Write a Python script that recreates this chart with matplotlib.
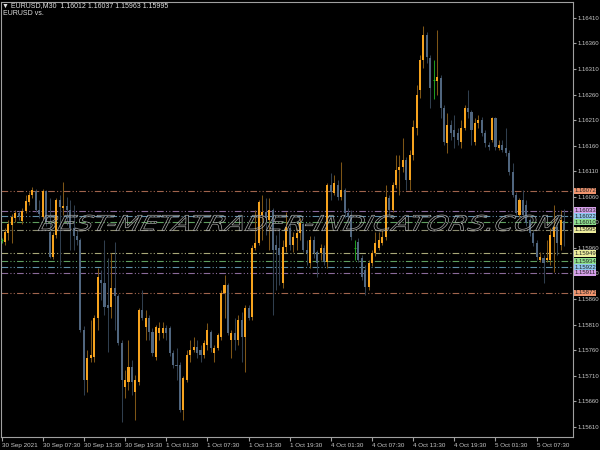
import numpy as np
import matplotlib
matplotlib.use('Agg')
import matplotlib.pyplot as plt
from matplotlib.textpath import TextPath
from matplotlib.font_manager import FontProperties
from matplotlib.patches import PathPatch
from matplotlib.transforms import Affine2D, IdentityTransform

# EURUSD M30 candles (first bar is a doji cut by the left edge)
opens = [1.15976,
    1.15972, 1.15989, 1.16005, 1.16019, 1.16029, 1.16013, 1.16032, 1.16050, 1.16064, 1.16072,
    1.16034, 1.16021, 1.16072, 1.15991, 1.15943, 1.15986, 1.16054, 1.16038, 1.16042, 1.16034,
    1.15999, 1.15984, 1.15976, 1.15800, 1.15702, 1.15745, 1.15747, 1.15823, 1.15898, 1.15892,
    1.15849, 1.15845, 1.15882, 1.15866, 1.15774, 1.15688, 1.15698, 1.15727, 1.15678, 1.15698,
    1.15839, 1.15806, 1.15823, 1.15796, 1.15747, 1.15794, 1.15794, 1.15804, 1.15804, 1.15755,
    1.15731, 1.15731, 1.15643, 1.15702, 1.15751, 1.15761, 1.15766, 1.15761, 1.15751, 1.15770,
    1.15796, 1.15755, 1.15765, 1.15786, 1.15872, 1.15888, 1.15780, 1.15794, 1.15780, 1.15819,
    1.15786, 1.15843, 1.15825, 1.15960, 1.15970, 1.16025, 1.16031, 1.16015, 1.16034, 1.15966,
    1.15960, 1.15892, 1.15962, 1.15999, 1.15966, 1.15980, 1.15989, 1.16007, 1.15956, 1.15931,
    1.15976, 1.15952, 1.15950, 1.15960, 1.15933, 1.16083, 1.16068, 1.16083, 1.16060, 1.16074,
    1.16029, 1.16025, 1.15960, 1.15972, 1.15941, 1.15917, 1.15884, 1.15931, 1.15950, 1.15960,
    1.15970, 1.15982, 1.16058, 1.16034, 1.16083, 1.16113, 1.16119, 1.16132, 1.16093, 1.16142,
    1.16195, 1.16269, 1.16328, 1.16377, 1.16332, 1.16289, 1.16287, 1.16293, 1.16234, 1.16166,
    1.16201, 1.16191, 1.16185, 1.16167, 1.16195, 1.16234, 1.16226, 1.16167, 1.16205, 1.16210,
    1.16185, 1.16162, 1.16171, 1.16214, 1.16156, 1.16162, 1.16156, 1.16146, 1.16109, 1.16064,
    1.16025, 1.16054, 1.16044, 1.16015, 1.15989, 1.15970, 1.15937, 1.15941, 1.15937, 1.15937,
    1.15982, 1.16001, 1.15966, 1.16012]

highs = [1.15980,
    1.15999, 1.16015, 1.16027, 1.16034, 1.16032, 1.16038, 1.16064, 1.16070, 1.16079, 1.16076,
    1.16054, 1.16076, 1.16074, 1.16058, 1.15991, 1.16058, 1.16064, 1.16089, 1.16060, 1.16054,
    1.16044, 1.15995, 1.15980, 1.15808, 1.15761, 1.15819, 1.15829, 1.15921, 1.15917, 1.15976,
    1.15941, 1.15950, 1.15972, 1.15870, 1.15780, 1.15721, 1.15780, 1.15741, 1.15712, 1.15843,
    1.15878, 1.15839, 1.15829, 1.15804, 1.15810, 1.15815, 1.15815, 1.15810, 1.15808, 1.15761,
    1.15765, 1.15737, 1.15710, 1.15761, 1.15780, 1.15786, 1.15780, 1.15770, 1.15780, 1.15813,
    1.15800, 1.15770, 1.15794, 1.15878, 1.15907, 1.15892, 1.15800, 1.15823, 1.15829, 1.15835,
    1.15849, 1.15849, 1.15966, 1.16034, 1.16054, 1.16064, 1.16058, 1.16058, 1.16038, 1.15986,
    1.15995, 1.15976, 1.16031, 1.16011, 1.15991, 1.15999, 1.16019, 1.16011, 1.15976, 1.15984,
    1.15984, 1.15956, 1.15968, 1.15966, 1.16087, 1.16107, 1.16103, 1.16093, 1.16128, 1.16077,
    1.16038, 1.16034, 1.15976, 1.15980, 1.15946, 1.15927, 1.15937, 1.15956, 1.15991, 1.15991,
    1.15995, 1.16083, 1.16064, 1.16089, 1.16142, 1.16142, 1.16175, 1.16138, 1.16152, 1.16210,
    1.16279, 1.16338, 1.16394, 1.16383, 1.16338, 1.16328, 1.16387, 1.16299, 1.16240, 1.16224,
    1.16210, 1.16220, 1.16195, 1.16210, 1.16240, 1.16269, 1.16230, 1.16214, 1.16220, 1.16216,
    1.16191, 1.16167, 1.16216, 1.16216, 1.16171, 1.16171, 1.16195, 1.16152, 1.16126, 1.16070,
    1.16058, 1.16074, 1.16054, 1.16019, 1.15995, 1.15976, 1.15952, 1.15946, 1.15976, 1.15999,
    1.16044, 1.16011, 1.16034, 1.16037]

lows = [1.15970,
    1.15966, 1.15976, 1.15970, 1.16011, 1.16015, 1.16007, 1.16029, 1.16044, 1.16058, 1.16031,
    1.16019, 1.16017, 1.16003, 1.15941, 1.15939, 1.15980, 1.15927, 1.16025, 1.16005, 1.15956,
    1.15956, 1.15966, 1.15796, 1.15673, 1.15678, 1.15737, 1.15737, 1.15800, 1.15858, 1.15829,
    1.15757, 1.15823, 1.15800, 1.15770, 1.15620, 1.15667, 1.15682, 1.15673, 1.15624, 1.15692,
    1.15819, 1.15780, 1.15780, 1.15749, 1.15741, 1.15780, 1.15784, 1.15780, 1.15749, 1.15725,
    1.15702, 1.15639, 1.15624, 1.15698, 1.15737, 1.15757, 1.15745, 1.15737, 1.15745, 1.15761,
    1.15757, 1.15737, 1.15761, 1.15780, 1.15823, 1.15790, 1.15745, 1.15761, 1.15770, 1.15737,
    1.15718, 1.15819, 1.15819, 1.15956, 1.15966, 1.15976, 1.15986, 1.15956, 1.15829, 1.15878,
    1.15888, 1.15882, 1.15952, 1.15956, 1.15952, 1.15956, 1.15976, 1.15952, 1.15927, 1.15921,
    1.15941, 1.15903, 1.15937, 1.15927, 1.15921, 1.16054, 1.16064, 1.16054, 1.16054, 1.16019,
    1.16011, 1.15976, 1.15937, 1.15933, 1.15898, 1.15868, 1.15878, 1.15925, 1.15944, 1.15956,
    1.15966, 1.15976, 1.16025, 1.16031, 1.16077, 1.16064, 1.16109, 1.16074, 1.16074, 1.16132,
    1.16181, 1.16254, 1.16312, 1.16322, 1.16234, 1.16252, 1.16259, 1.16214, 1.16162, 1.16146,
    1.16171, 1.16156, 1.16162, 1.16156, 1.16191, 1.16214, 1.16162, 1.16162, 1.16195, 1.16179,
    1.16158, 1.16152, 1.16167, 1.16152, 1.16152, 1.16148, 1.16140, 1.16103, 1.16060, 1.16025,
    1.16021, 1.16019, 1.16003, 1.15984, 1.15964, 1.15937, 1.15933, 1.15892, 1.15933, 1.15927,
    1.15913, 1.15946, 1.15956, 1.15963]

closes = [1.15976,
    1.15991, 1.16007, 1.16021, 1.16029, 1.16023, 1.16032, 1.16052, 1.16064, 1.16074, 1.16034,
    1.16027, 1.16072, 1.16011, 1.15943, 1.15986, 1.16054, 1.16040, 1.16042, 1.16034, 1.15999,
    1.15984, 1.15976, 1.15800, 1.15702, 1.15745, 1.15751, 1.15823, 1.15903, 1.15892, 1.15845,
    1.15843, 1.15882, 1.15866, 1.15774, 1.15702, 1.15702, 1.15727, 1.15698, 1.15702, 1.15839,
    1.15823, 1.15823, 1.15796, 1.15755, 1.15806, 1.15804, 1.15804, 1.15794, 1.15755, 1.15731,
    1.15729, 1.15643, 1.15706, 1.15751, 1.15761, 1.15766, 1.15755, 1.15751, 1.15774, 1.15800,
    1.15765, 1.15765, 1.15790, 1.15872, 1.15888, 1.15794, 1.15794, 1.15780, 1.15819, 1.15786,
    1.15843, 1.15823, 1.15960, 1.15970, 1.16050, 1.16031, 1.16019, 1.16034, 1.15956, 1.15956,
    1.15946, 1.15962, 1.16001, 1.15966, 1.15982, 1.15989, 1.16009, 1.15956, 1.15950, 1.15976,
    1.15950, 1.15931, 1.15960, 1.15933, 1.16083, 1.16070, 1.16087, 1.16060, 1.16074, 1.16029,
    1.16021, 1.15982, 1.15960, 1.15937, 1.15903, 1.15884, 1.15931, 1.15950, 1.15970, 1.15976,
    1.15982, 1.16060, 1.16034, 1.16083, 1.16113, 1.16119, 1.16132, 1.16093, 1.16142, 1.16197,
    1.16259, 1.16328, 1.16377, 1.16334, 1.16273, 1.16289, 1.16295, 1.16234, 1.16167, 1.16201,
    1.16185, 1.16177, 1.16171, 1.16195, 1.16234, 1.16226, 1.16191, 1.16205, 1.16210, 1.16185,
    1.16166, 1.16158, 1.16214, 1.16158, 1.16162, 1.16152, 1.16146, 1.16109, 1.16064, 1.16029,
    1.16054, 1.16025, 1.16009, 1.15989, 1.15970, 1.15943, 1.15943, 1.15931, 1.15941, 1.15986,
    1.16001, 1.15970, 1.16015, 1.15995]

time_ticks = [0, 12, 24, 36, 48, 60, 72, 84, 96, 108, 120, 132, 144, 156]
time_labels = ['30 Sep 2021', '30 Sep 07:30', '30 Sep 13:30', '30 Sep 19:30',
               '1 Oct 01:30', '1 Oct 07:30', '1 Oct 13:30', '1 Oct 19:30',
               '4 Oct 01:30', '4 Oct 07:30', '4 Oct 13:30', '4 Oct 19:30',
               '5 Oct 01:30', '5 Oct 07:30']

price_ticks = [1.16410, 1.16360, 1.16310, 1.16260, 1.16210, 1.16160, 1.16110, 1.16060,
               1.16010, 1.15960, 1.15910, 1.15860, 1.15810, 1.15760, 1.15710, 1.15660, 1.15610]

level_prices = [1.16072, 1.16033, 1.16022, 1.16010, 1.15995,
                1.15949, 1.15934, 1.15922, 1.15911, 1.15872]
level_line_colors = ['#a0644c', '#8a6a9a', '#5f8fa8', '#5e9e5e', '#8c8c70',
                     '#a8a878', '#5e9e5e', '#5f8fa8', '#8a6a9a', '#a0644c']
level_box_colors = ['#f0946e', '#d6a0ea', '#8fc7ee', '#8ee08e', '#eded9c',
                    '#eded9c', '#8ee08e', '#8fc7ee', '#d6a0ea', '#f0946e']

header = '\u25bc EURUSD,M30  1.16012 1.16037 1.15963 1.15995'
watermark = 'BEST-METATRADER-INDICATORS.COM'

plt.rcParams['font.family'] = ['Liberation Sans Narrow', 'Liberation Sans', 'DejaVu Sans']
fs = 4.3

o = np.array(opens)
h = np.array(highs)
l = np.array(lows)
c = np.array(closes)
x = np.arange(len(o))
up = c > o
down = c < o
doji = c == o

fig = plt.figure(figsize=(6, 4.5), dpi=100, facecolor='black')
ax = fig.add_axes([1 / 600, 13 / 450, 572 / 600, 435 / 450])
ax.set_facecolor('black')

# levels
for p, lc in zip(level_prices, level_line_colors):
    ax.axhline(p, color=lc, lw=0.8, ls=(0, (6, 2, 1, 2, 1, 2)), zorder=1)

# wicks
ax.vlines(x[up], l[up], h[up], color='#7d5516', lw=0.75, zorder=2)
ax.vlines(x[down], l[down], h[down], color='#303e4e', lw=0.75, zorder=2)
ax.vlines(x[doji], l[doji], h[doji], color='#1e9a1e', lw=0.75, zorder=2)
# bodies
ax.bar(x[up], c[up] - o[up], bottom=o[up], width=0.6, color='#f6a31e', lw=0, zorder=3)
ax.bar(x[down], c[down] - o[down], bottom=o[down], width=0.6, color='#50667f', lw=0, zorder=3)
ax.hlines(c[doji], x[doji] - 0.3, x[doji] + 0.3, color='#22b022', lw=0.75, zorder=3)

ax.set_xlim(-0.17, 166.6)
ax.set_ylim(1.15590, 1.16441)

for s in ax.spines.values():
    s.set_color('#a0a0a0')
    s.set_linewidth(0.8)

ax.yaxis.tick_right()
ax.set_yticks(price_ticks)
ax.set_yticklabels(['%.5f' % v for v in price_ticks])
ax.tick_params(axis='y', colors='#a0a0a0', labelcolor='#c8c8c8', labelsize=fs,
               length=2.5, width=0.8, pad=0.8)
ax.set_xticks(time_ticks)
ax.set_xticklabels(time_labels, ha='left')
ax.tick_params(axis='x', colors='#a0a0a0', labelcolor='#c8c8c8', labelsize=4.5,
               length=3, width=0.8, pad=1)

# coloured price boxes on the right scale
for p, bc in zip(level_prices, level_box_colors):
    ax.text(1.002, p, '%.5f' % p, transform=ax.get_yaxis_transform(), ha='left',
            va='center', fontsize=fs, color='#202020', clip_on=False, zorder=10,
            bbox=dict(boxstyle='square,pad=0.1', fc=bc, ec='none'))

fig.text(2 / 600, 1 - 6 / 450, header, fontsize=5, color='#e0e0e0', va='center',
         family=['Liberation Sans Narrow', 'Liberation Sans', 'DejaVu Sans'])
fig.text(3 / 600, 1 - 13.5 / 450, 'EURUSD vs.', fontsize=5, color='#e0e0e0', va='center')

# outlined watermark across the middle of the chart
fp = FontProperties(family='DejaVu Sans', style='italic')
tp = TextPath((0, 0), watermark, size=20, prop=fp)
bb = tp.get_extents()
tr = (Affine2D().translate(-bb.x0, -bb.y0)
      .scale(520 / bb.width, 16 / bb.height)
      .skew_deg(14, 0)
      .translate(38, 450 - 231))
fig.add_artist(PathPatch(tr.transform_path(tp), fc='none', ec='#a8a8a8', lw=0.5,
                         transform=IdentityTransform(), zorder=6))

fig.savefig('out.png', dpi=100, facecolor='black')
